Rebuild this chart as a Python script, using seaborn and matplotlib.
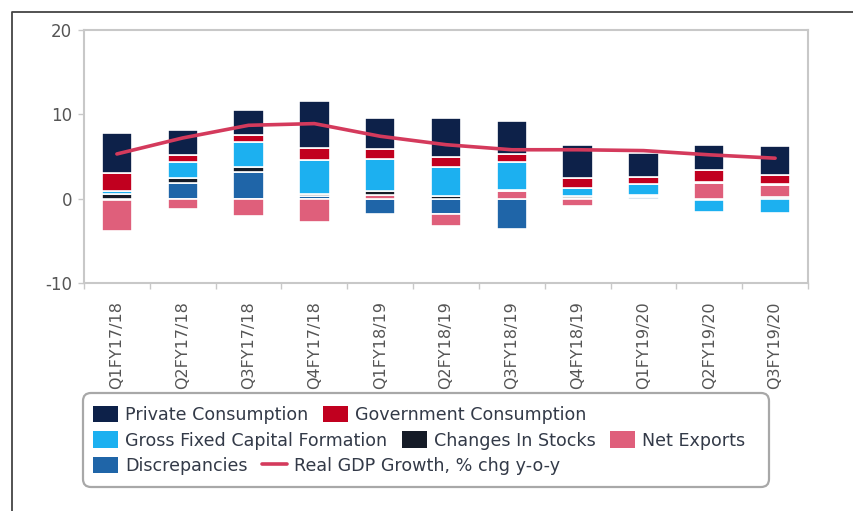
import numpy as np
import pandas as pd
import matplotlib
matplotlib.use("Agg")
import matplotlib.pyplot as plt
import seaborn as sns
from matplotlib.patches import Patch, FancyBboxPatch
from matplotlib.lines import Line2D
from matplotlib.ticker import FixedLocator
from matplotlib.transforms import IdentityTransform

# ---------------- data ----------------
categories = ["Q1FY17/18", "Q2FY17/18", "Q3FY17/18", "Q4FY17/18",
              "Q1FY18/19", "Q2FY18/19", "Q3FY18/19", "Q4FY18/19",
              "Q1FY19/20", "Q2FY19/20", "Q3FY19/20"]

private_consumption = [4.8, 2.9, 2.9, 5.6, 3.7, 4.6, 3.9, 4.0, 2.8, 3.0, 3.5]
government_consumption = [2.1, 0.9, 0.9, 1.4, 1.2, 1.2, 1.0, 1.1, 0.9, 1.4, 1.1]
gross_fixed_capital = [0.3, 1.9, 2.9, 4.0, 3.8, 3.5, 3.3, 1.0, 1.3, -1.4, -1.7]
changes_in_stocks = [0.6, 0.5, 0.6, 0.3, 0.5, 0.3, 0.1, 0.2, 0.1, 0.1, 0.1]
net_exports = [-3.6, -1.2, -2.1, -2.8, 0.4, -1.5, 0.9, -0.9, 0.1, 1.9, 1.4]
discrepancies = [-0.2, 1.9, 3.2, 0.3, -1.8, -1.8, -3.6, 0.1, 0.2, -0.2, 0.2]
real_gdp_growth = [5.3, 7.2, 8.7, 8.9, 7.4, 6.4, 5.8, 5.8, 5.7, 5.2, 4.8]

series_labels = ["Private Consumption", "Government Consumption",
                 "Gross Fixed Capital Formation", "Changes In Stocks",
                 "Net Exports", "Discrepancies"]
line_label = "Real GDP Growth, % chg y-o-y"

series_values = {
    "Private Consumption": private_consumption,
    "Government Consumption": government_consumption,
    "Gross Fixed Capital Formation": gross_fixed_capital,
    "Changes In Stocks": changes_in_stocks,
    "Net Exports": net_exports,
    "Discrepancies": discrepancies,
}
series_colors = {
    "Private Consumption": "#0d2149",
    "Government Consumption": "#c1001f",
    "Gross Fixed Capital Formation": "#1cb0f0",
    "Changes In Stocks": "#151b27",
    "Net Exports": "#df5f7b",
    "Discrepancies": "#1f65a8",
}
line_color = "#d43a5c"

# ---------------- style ----------------
sns.set_theme(style="white")
plt.rcParams["font.family"] = ["DejaVu Sans"]
plt.rcParams["axes.unicode_minus"] = False

W, H = 854, 511
fig = plt.figure(figsize=(W / 100, H / 100), dpi=100)
fig.patch.set_facecolor("white")
ax = fig.add_axes([84 / W, 1 - 283 / H, (808 - 84) / W, (283 - 30) / H])

n = len(categories)
idx = np.arange(n)

# stack from zero outward: last legend series closest to zero
stack_order = list(reversed(series_labels))
pos_base = np.zeros(n)
neg_base = np.zeros(n)
for name in stack_order:
    vals = np.array(series_values[name], dtype=float)
    bottom = np.where(vals >= 0, pos_base, neg_base)
    df = pd.DataFrame({"pos": idx, "value": vals})
    sns.barplot(data=df, x="pos", y="value", native_scale=True,
                bottom=bottom, color=series_colors[name], saturation=1,
                width=0.46, edgecolor="white", linewidth=1.2,
                errorbar=None, ax=ax)
    pos_base += np.where(vals > 0, vals, 0)
    neg_base += np.where(vals < 0, vals, 0)

sns.lineplot(x=idx, y=real_gdp_growth, sort=False, estimator=None,
             color=line_color, linewidth=2.6, ax=ax)

# ---------------- axes ----------------
ax.set_xlim(-0.5, n - 0.5)
ax.set_ylim(-10, 20)
ax.set_yticks([-10, 0, 10, 20])
ax.set_xticks(idx)
ax.set_xticklabels(categories, rotation=90, fontsize=11.5, color="#555555")
ax.xaxis.set_minor_locator(FixedLocator(np.arange(-0.5, n, 1.0)))
ax.tick_params(axis="x", which="major", length=0, pad=13)
ax.tick_params(axis="x", which="minor", length=4.5, width=1, color="#c8c8c8",
               bottom=True)
ax.tick_params(axis="y", length=4.5, width=1, color="#c8c8c8", pad=4,
               labelsize=12, labelcolor="#555555", left=True)
ax.set_xlabel("")
ax.set_ylabel("")
for s in ax.spines.values():
    s.set_color("#c8c8c8")
    s.set_linewidth(1.5)
ax.grid(False)

# ---------------- legend ----------------
handles = {name: Patch(facecolor=series_colors[name], edgecolor="none")
           for name in series_labels}
line_handle = Line2D([0], [0], color=line_color, linewidth=2.6)

rows = [
    (["Private Consumption", "Government Consumption"], 415),
    (["Gross Fixed Capital Formation", "Changes In Stocks", "Net Exports"], 440.5),
    (["Discrepancies", line_label], 466),
]
for labels, yc in rows:
    hs = [line_handle if lab == line_label else handles[lab] for lab in labels]
    fig.legend(hs, labels, loc="center left",
               bbox_to_anchor=(93 / W, 1 - yc / H), ncol=len(labels),
               frameon=False, fontsize=12.6, borderpad=0, borderaxespad=0,
               handlelength=1.45, handleheight=1.08, handletextpad=0.4,
               columnspacing=0.8, labelcolor="#333a48")

frame = FancyBboxPatch((83, H - 487), 686, 94,
                       boxstyle="round,pad=0,rounding_size=8",
                       transform=IdentityTransform(), facecolor="none",
                       edgecolor="#a8a8a8", linewidth=1.6, zorder=0)
fig.add_artist(frame)

# outer frame (partial border of the original image)
border = Line2D([11.5, 11.5, W], [0, H - 11.5, H - 11.5],
                transform=IdentityTransform(), color="#444444", linewidth=1.3)
fig.add_artist(border)

fig.savefig("out.png", dpi=100, facecolor="white")
